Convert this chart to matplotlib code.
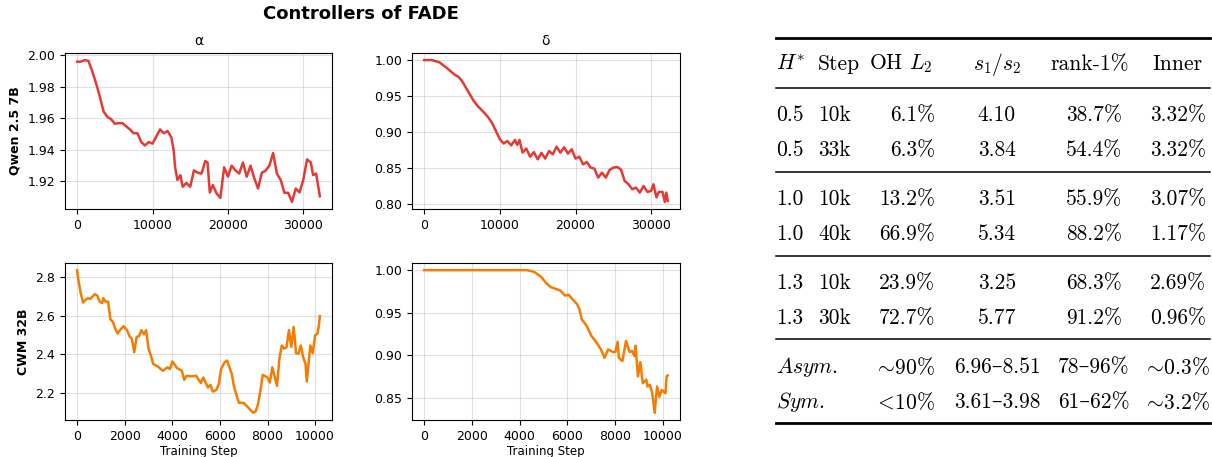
import matplotlib
matplotlib.use('agg')

import matplotlib.pyplot as plt
import numpy as np

# Qwen 2.5 7B controllers
qwen_alpha_step = [0, 500, 1000, 1500, 2000, 2500, 3000, 3500, 4000, 4500, 5000, 5500, 6000, 6500,
                   7000, 7500, 8000, 8500, 9000, 9500, 10000, 10500, 11000, 11500, 12000, 12500,
                   12800, 13000, 13300, 13700, 14000, 14500, 15000, 15500, 16000, 16500, 17000,
                   17300, 17600, 18000, 18500, 19000, 19500, 20000, 20500, 21000, 21500, 22000,
                   22500, 23000, 23500, 24000, 24500, 25000, 25500, 26000, 26500, 27000, 27500,
                   28000, 28500, 29000, 29500, 30000, 30500, 31000, 31300, 31700, 32200]
qwen_alpha = [1.996, 1.996, 1.997, 1.9965, 1.990, 1.9825, 1.974, 1.9645, 1.961, 1.9595, 1.9566,
              1.957, 1.957, 1.955, 1.953, 1.9506, 1.9506, 1.945, 1.9428, 1.945, 1.944, 1.9485,
              1.953, 1.9506, 1.952, 1.948, 1.940, 1.929, 1.9209, 1.924, 1.9166, 1.919, 1.9166,
              1.927, 1.9255, 1.925, 1.933, 1.932, 1.913, 1.9177, 1.9123, 1.9096, 1.929, 1.923,
              1.930, 1.927, 1.925, 1.932, 1.923, 1.930, 1.922, 1.9155, 1.9255, 1.9268, 1.930,
              1.938, 1.925, 1.921, 1.9128, 1.9128, 1.907, 1.9155, 1.913, 1.921, 1.934, 1.932,
              1.924, 1.925, 1.9106]

qwen_delta_step = [0, 1000, 2000, 3000, 4000, 4500, 5000, 5500, 6000, 6500, 7000, 7500, 8000, 8500,
                   9000, 9500, 10000, 10500, 11000, 11500, 12000, 12300, 12600, 13000, 13500,
                   14000, 14500, 15000, 15500, 16000, 16500, 17000, 17500, 18000, 18500, 19000,
                   19500, 20000, 20500, 21000, 21500, 22000, 22500, 23000, 23500, 24000, 24500,
                   25000, 25500, 26000, 26500, 27000, 27500, 28000, 28500, 29000, 29500, 30000,
                   30300, 30700, 31000, 31500, 31800, 32000, 32200]
qwen_delta = [1.000, 1.000, 0.997, 0.989, 0.980, 0.977, 0.971, 0.962, 0.953, 0.944, 0.937, 0.9315,
              0.926, 0.920, 0.912, 0.901, 0.890, 0.884, 0.8875, 0.8815, 0.889, 0.882, 0.889,
              0.8713, 0.877, 0.8657, 0.872, 0.862, 0.871, 0.863, 0.8736, 0.869, 0.8796, 0.8713,
              0.8787, 0.870, 0.876, 0.863, 0.8657, 0.855, 0.8583, 0.8505, 0.849, 0.8366, 0.8435,
              0.8366, 0.8472, 0.8505, 0.8514, 0.848, 0.832, 0.8273, 0.8204, 0.8227, 0.8157, 0.825,
              0.8167, 0.818, 0.8273, 0.809, 0.8167, 0.8167, 0.8028, 0.8157, 0.804]

# CWM 32B controllers
cwm_alpha_step = [0, 50, 150, 250, 350, 450, 550, 650, 750, 850, 950, 1050, 1100, 1200, 1300, 1400,
                  1500, 1600, 1700, 1800, 1950, 2100, 2200, 2300, 2400, 2500, 2600, 2700, 2800,
                  2900, 3000, 3100, 3200, 3400, 3600, 3800, 3900, 4000, 4200, 4400, 4500, 4600,
                  4800, 5000, 5200, 5300, 5500, 5600, 5700, 5850, 5950, 6050, 6200, 6300, 6400,
                  6500, 6600, 6800, 7000, 7200, 7400, 7500, 7600, 7700, 7800, 8000, 8100, 8200,
                  8400, 8500, 8600, 8700, 8800, 8900, 9000, 9100, 9200, 9300, 9400, 9500, 9600,
                  9650, 9800, 9900, 10000, 10100, 10150, 10200]
cwm_alpha = [2.835, 2.786, 2.716, 2.667, 2.681, 2.690, 2.686, 2.699, 2.711, 2.702, 2.672, 2.664,
             2.690, 2.672, 2.672, 2.580, 2.568, 2.533, 2.507, 2.524, 2.545, 2.524, 2.493, 2.480,
             2.410, 2.489, 2.493, 2.524, 2.503, 2.524, 2.428, 2.393, 2.349, 2.335, 2.314, 2.332,
             2.323, 2.362, 2.328, 2.314, 2.267, 2.288, 2.285, 2.288, 2.250, 2.279, 2.227, 2.241,
             2.206, 2.215, 2.244, 2.323, 2.358, 2.367, 2.332, 2.297, 2.227, 2.148, 2.148, 2.122,
             2.096, 2.104, 2.140, 2.210, 2.293, 2.279, 2.253, 2.332, 2.236, 2.376, 2.445, 2.428,
             2.437, 2.524, 2.437, 2.541, 2.405, 2.402, 2.445, 2.384, 2.349, 2.258, 2.445, 2.405,
             2.498, 2.507, 2.541, 2.597]

cwm_delta_step = [0, 4300, 4600, 4900, 5100, 5300, 5500, 5700, 5900, 6050, 6200, 6400, 6500, 6600,
                  6800, 7000, 7200, 7400, 7550, 7700, 7900, 8000, 8100, 8150, 8300, 8450, 8600,
                  8700, 8800, 8850, 8950, 9050, 9150, 9300, 9350, 9450, 9550, 9650, 9750, 9850,
                  9950, 10100, 10150, 10200]
cwm_delta = [1.000, 1.000, 0.998, 0.992, 0.985, 0.980, 0.978, 0.976, 0.970, 0.971, 0.966, 0.960,
             0.954, 0.942, 0.9345, 0.9226, 0.9155, 0.9067, 0.8968, 0.9067, 0.9036, 0.9036, 0.9155,
             0.8968, 0.893, 0.9167, 0.9036, 0.905, 0.899, 0.911, 0.875, 0.8917, 0.867, 0.871,
             0.863, 0.865, 0.855, 0.832, 0.863, 0.851, 0.859, 0.855, 0.875, 0.876]

# table on the right
col_headers = ['$H^{*}$', 'Step', 'OH $L_2$', '$s_1/s_2$', 'rank-1%', 'Inner']
h_star = ['0.5', '0.5', '1.0', '1.0', '1.3', '1.3']
steps = ['10k', '33k', '10k', '40k', '10k', '30k']
oh_l2 = ['6.1%', '6.3%', '13.2%', '66.9%', '23.9%', '72.7%']
s_ratio = ['4.10', '3.84', '3.51', '5.34', '3.25', '5.77']
rank1 = ['38.7%', '54.4%', '55.9%', '88.2%', '68.3%', '91.2%']
inner = ['3.32%', '3.32%', '3.07%', '1.17%', '2.69%', '0.96%']
summary_labels = ['$Asym.$', '$Sym.$']
summary_oh = [r'$\!\sim\!$90%', r'$\!<\!$10%']
summary_s = ['6.96–8.51', '3.61–3.98']
summary_rank = ['78–96%', '61–62%']
summary_inner = [r'$\!\sim\!$0.3%', r'$\!\sim\!$3.2%']

RED = '#e53935'
ORANGE = '#f57c00'

plt.rcParams['mathtext.fontset'] = 'cm'

W, H = 1212, 457
fig = plt.figure(figsize=(W / 100, H / 100), dpi=100)


def px_axes(left, top, right, bottom):
    return fig.add_axes([left / W, 1 - bottom / H, (right - left) / W, (bottom - top) / H])


ax_qa = px_axes(65, 53, 332, 209)
ax_qd = px_axes(412, 53, 680, 209)
ax_ca = px_axes(65, 263, 332, 420)
ax_cd = px_axes(412, 263, 680, 420)

ax_qa.plot(qwen_alpha_step, qwen_alpha, color=RED, linewidth=1.8)
ax_qd.plot(qwen_delta_step, qwen_delta, color=RED, linewidth=1.8)
ax_ca.plot(cwm_alpha_step, cwm_alpha, color=ORANGE, linewidth=1.8)
ax_cd.plot(cwm_delta_step, cwm_delta, color=ORANGE, linewidth=1.8)

for ax in [ax_qa, ax_qd, ax_ca, ax_cd]:
    ax.grid(True, color='#cccccc', alpha=0.6, linewidth=0.8)
    ax.tick_params(labelsize=9)

ax_qa.set_title('α', fontsize=10)
ax_qd.set_title('δ', fontsize=10)
ax_qa.set_ylabel('Qwen 2.5 7B', fontsize=9, fontweight='bold')
ax_ca.set_ylabel('CWM 32B', fontsize=9, fontweight='bold')
ax_ca.set_xlabel('Training Step', fontsize=8.5, labelpad=2)
ax_cd.set_xlabel('Training Step', fontsize=8.5, labelpad=2)
ax_qa.set_yticks(np.arange(1.92, 2.001, 0.02))
ax_qd.set_yticks(np.arange(0.80, 1.001, 0.05))
ax_ca.set_yticks([2.2, 2.4, 2.6, 2.8])
ax_cd.set_yticks([0.85, 0.90, 0.95, 1.00])
ax_ca.set_xticks(np.arange(0, 10001, 2000))
ax_cd.set_xticks(np.arange(0, 10001, 2000))

fig.text(361 / W, 1 - 14 / H, 'Controllers of FADE', fontsize=13, fontweight='bold',
         ha='center', va='center')

# table drawn in pixel coordinates
tab = fig.add_axes([0, 0, 1, 1])
tab.set_xlim(0, W)
tab.set_ylim(H, 0)
tab.axis('off')

tfont = dict(family=['cmr10', 'DejaVu Serif'], fontsize=15.5, va='center')
rule_left, rule_right = 776, 1210
for y, lw in [(38, 2.0), (88, 1.1), (172, 1.1), (256, 1.1), (339, 1.1), (423, 2.0)]:
    tab.plot([rule_left, rule_right], [y, y], color='black', linewidth=lw)

header_x = [776, 818, 901, 997, 1090, 1178]
header_ha = ['left', 'left', 'center', 'center', 'center', 'center']
for txt, x, ha in zip(col_headers, header_x, header_ha):
    tab.text(x, 64, txt, ha=ha, **tfont)

row_y = [115, 150, 199, 234, 283, 318]
for i, y in enumerate(row_y):
    tab.text(776, y, h_star[i], ha='left', **tfont)
    tab.text(818, y, steps[i], ha='left', **tfont)
    tab.text(935, y, oh_l2[i], ha='right', **tfont)
    tab.text(997, y, s_ratio[i], ha='center', **tfont)
    tab.text(1094, y, rank1[i], ha='center', **tfont)
    tab.text(1178, y, inner[i], ha='center', **tfont)

for i, y in enumerate([367, 402]):
    tab.text(776, y, summary_labels[i], ha='left', **tfont)
    tab.text(935, y, summary_oh[i], ha='right', **tfont)
    tab.text(997, y, summary_s[i], ha='center', **tfont)
    tab.text(1094, y, summary_rank[i], ha='center', **tfont)
    tab.text(1178, y, summary_inner[i], ha='center', **tfont)

fig.savefig('out.png', dpi=100)
